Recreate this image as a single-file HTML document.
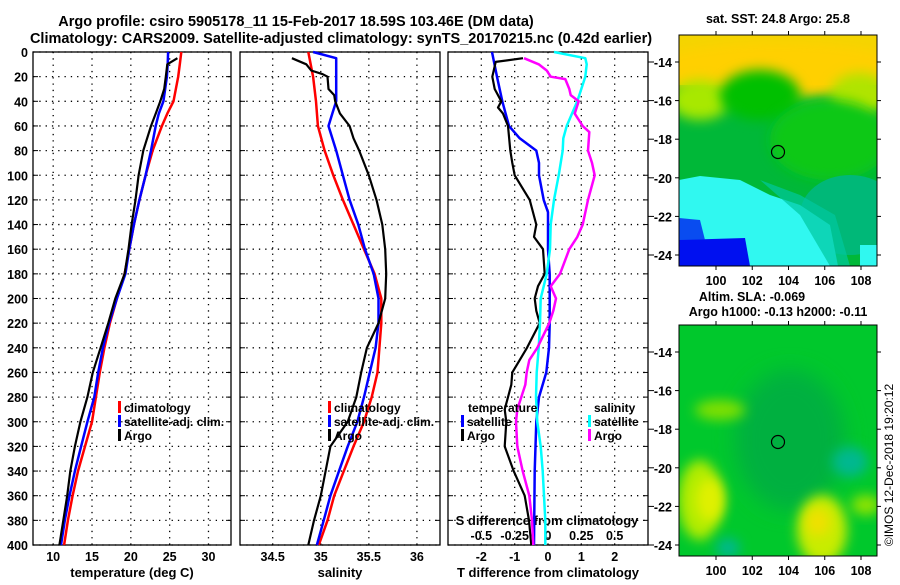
<!DOCTYPE html>
<html><head><meta charset="utf-8"><style>
body{margin:0;background:#fff;}
svg text{font-family:"Liberation Sans",sans-serif;font-weight:bold;fill:#000;}
</style></head><body>
<svg id="chart" width="900" height="580" viewBox="0 0 900 580" xmlns="http://www.w3.org/2000/svg">
<defs>
<filter id="blur6" x="-50%" y="-50%" width="200%" height="200%"><feGaussianBlur stdDeviation="6"/></filter>
<filter id="blur10" x="-50%" y="-50%" width="200%" height="200%"><feGaussianBlur stdDeviation="10"/></filter>
<clipPath id="clipTop"><rect x="679" y="35" width="198" height="231"/></clipPath>
<clipPath id="clipBot"><rect x="679" y="325" width="198" height="231"/></clipPath>
</defs>
<text x="296" y="26" font-size="14.5" text-anchor="middle">Argo profile: csiro 5905178_11 15-Feb-2017 18.59S 103.46E (DM data)</text>
<text x="341" y="43" font-size="14.5" text-anchor="middle">Climatology: CARS2009. Satellite-adjusted climatology: synTS_20170215.nc (0.42d earlier)</text>

<g clip-path="url(#clipTop)">
<rect x="679" y="35" width="198" height="231" fill="#00b838"/>
<rect x="679" y="35" width="198" height="50" fill="#f4d400"/>
<ellipse cx="778" cy="70" rx="130" ry="28" fill="#ffd000" filter="url(#blur6)"/>
<ellipse cx="700" cy="100" rx="30" ry="20" fill="#a8e800" filter="url(#blur6)"/>
<ellipse cx="860" cy="95" rx="30" ry="22" fill="#b0e400" filter="url(#blur6)"/>
<ellipse cx="760" cy="95" rx="40" ry="25" fill="#00c000" filter="url(#blur6)"/>
<ellipse cx="830" cy="140" rx="60" ry="40" fill="#10c818" filter="url(#blur6)"/>
<ellipse cx="850" cy="215" rx="50" ry="40" fill="#00b878"/>
<polygon points="679,180 700,176 740,180 770,195 800,205 830,225 838,266 679,266" fill="#30f8f0"/>
<polygon points="760,180 800,195 835,215 850,266 830,266 800,215" fill="#00c8a0" opacity="0.7"/>
<polygon points="679,240 745,238 750,266 679,266" fill="#0010f0"/>
<polygon points="679,218 700,220 705,240 679,240" fill="#0020f0" opacity="0.8"/>
<rect x="860" y="245" width="17" height="21" fill="#30f8f0"/>
</g>
<rect x="679" y="35" width="198" height="231" fill="none" stroke="#000" stroke-width="1"/>
<circle cx="778" cy="152" r="6.5" fill="none" stroke="#000" stroke-width="1.2"/>
<text x="778" y="23" font-size="12.5" text-anchor="middle">sat. SST: 24.8 Argo: 25.8</text>

<g clip-path="url(#clipBot)">
<rect x="679" y="325" width="198" height="231" fill="#00c040"/>
<rect x="679" y="325" width="198" height="231" fill="#00d018" opacity="0.5"/>
<ellipse cx="790" cy="440" rx="55" ry="70" fill="#00b040" filter="url(#blur10)"/>
<ellipse cx="700" cy="500" rx="22" ry="40" fill="#b0ec00" filter="url(#blur6)"/>
<ellipse cx="710" cy="500" rx="14" ry="22" fill="#e0f000" filter="url(#blur6)"/>
<ellipse cx="720" cy="410" rx="25" ry="10" fill="#80e000" filter="url(#blur6)"/>
<ellipse cx="822" cy="530" rx="25" ry="35" fill="#c8ec00" filter="url(#blur6)"/>
<ellipse cx="818" cy="522" rx="12" ry="14" fill="#f0e000" filter="url(#blur6)"/>
<ellipse cx="866" cy="505" rx="15" ry="10" fill="#90e400" filter="url(#blur6)"/>
<ellipse cx="850" cy="462" rx="18" ry="15" fill="#00b890" filter="url(#blur6)"/>
<ellipse cx="728" cy="548" rx="12" ry="10" fill="#00b890" filter="url(#blur6)"/>
</g>
<rect x="679" y="325" width="198" height="231" fill="none" stroke="#000" stroke-width="1"/>
<circle cx="778" cy="442" r="6.5" fill="#00b040" stroke="#000" stroke-width="1.2"/>
<text x="752" y="301" font-size="12.5" text-anchor="middle">Altim. SLA: -0.069</text>
<text x="778" y="316" font-size="12.5" text-anchor="middle">Argo h1000: -0.13 h2000: -0.11</text>
<text transform="translate(893,465) rotate(-90)" font-size="12" text-anchor="middle" style="font-weight:normal">©IMOS 12-Dec-2018 19:20:12</text>
<g id="layer"></g>
</svg>
<script>
// ---- data ----
var depthTicks = [0,20,40,60,80,100,120,140,160,180,200,220,240,260,280,300,320,340,360,380,400];
var tempTicks = [10,15,20,25,30];
var salTicks = [34.5,35,35.5,36];
var salTickLabels = ['34.5','35','35.5','36'];
var tdiffTicks = [-2,-1,0,1,2];
var sdiffTicks = [-0.5,-0.25,0,0.25,0.5];
var sdiffTickLabels = ['-0.5','-0.25','0','0.25','0.5'];
var latTicks = [-14,-16,-18,-20,-22,-24];
var lonTicks = [100,102,104,106,108];

var climTDepth = [0,10,20,40,50,60,80,100,120,140,160,180,200,220,240,260,280,300,320,340,360,380,400];
var climT = [26.5,26.3,26.1,25.5,24.7,24.0,22.8,21.9,21.1,20.4,19.8,19.2,18.2,17.3,16.6,16.0,15.5,15.0,14.1,13.2,12.5,11.9,11.4];
var satT = [24.8,24.75,24.65,24.2,23.6,23.2,22.6,21.9,21.1,20.4,19.8,19.3,18.2,17.2,16.4,15.8,15.3,14.4,13.6,12.8,12.1,11.5,11.0];
var argoTDepth = [5,8,10,20,30,40,50,60,80,100,120,140,160,180,200,220,240,260,280,300,320,340,360,380,400];
var argoT = [26.0,25.2,24.7,24.5,24.3,23.8,23.2,22.6,21.6,21.0,20.6,20.1,19.7,19.2,18.0,17.1,16.1,15.1,14.4,13.5,12.8,12.2,11.8,11.3,10.8];

var climSDepth = [0,20,40,60,80,100,120,140,160,180,200,220,240,260,280,300,320,340,360,380,400];
var climS = [34.87,34.92,34.95,34.97,35.04,35.13,35.23,35.34,35.45,35.56,35.63,35.63,35.61,35.59,35.53,35.45,35.34,35.24,35.14,35.07,34.98];
var satSDepth = [0,5,20,40,50,60,80,100,120,140,160,180,200,220,240,260,280,300,320,340,360,380,400];
var satS = [34.92,35.16,35.16,35.16,35.12,35.08,35.16,35.23,35.3,35.39,35.46,35.55,35.6,35.6,35.57,35.51,35.45,35.38,35.28,35.19,35.1,35.03,34.96];
var argoSDepth = [5,10,15,18,20,30,35,40,50,60,70,80,100,120,140,160,180,200,220,240,260,280,300,320,340,360,380,400];
var argoS = [34.7,34.85,34.9,35.02,35.07,35.08,35.14,35.15,35.2,35.3,35.34,35.4,35.5,35.58,35.64,35.67,35.68,35.67,35.6,35.48,35.42,35.37,35.28,35.1,35.05,35.0,34.93,34.87];

var dTsatDepth = [0,20,40,60,70,80,90,100,120,130,140,160,180,200,220,240,260,280,300,340,400];
var dTsat = [-1.68,-1.53,-1.37,-1.17,-0.85,-0.35,-0.27,-0.27,-0.13,0,0,0,0.05,0.05,0.05,0.03,-0.05,-0.27,-0.35,-0.4,-0.42];
var dTargoDepth = [5,8,20,30,40,45,50,60,80,90,100,120,140,150,160,180,190,200,210,220,240,250,260,270,280,290,300,320,340,360,380,400];
var dTargo = [-0.75,-1.57,-1.67,-1.6,-1.4,-1.5,-1.35,-1.2,-1.13,-1.07,-1.0,-0.55,-0.35,-0.42,-0.15,-0.1,-0.3,-0.4,-0.35,-0.25,-0.63,-0.85,-1.07,-1.1,-1.2,-1.3,-1.25,-1.3,-1.03,-0.7,-0.57,-0.5];
var dSsatDepth = [0,5,10,20,40,60,70,80,100,120,140,160,180,200,220,240,260,280,300,320,340,360,380,400];
var dSsat = [0.045,0.28,0.29,0.28,0.22,0.14,0.115,0.11,0.08,0.045,0.02,0.015,-0.01,-0.055,-0.06,-0.07,-0.085,-0.09,-0.08,-0.055,-0.04,-0.03,-0.02,-0.02];
var dSargoDepth = [5,10,15,20,22,30,35,40,50,60,65,80,90,100,120,140,150,160,180,190,200,210,220,240,250,260,270,280,290,300,320,340,360,380,400];
var dSargo = [-0.18,-0.07,-0.01,0.02,0.13,0.16,0.17,0.23,0.2,0.26,0.31,0.3,0.33,0.35,0.3,0.26,0.22,0.16,0.09,0.02,0.06,0.04,0.01,-0.08,-0.14,-0.16,-0.17,-0.2,-0.23,-0.24,-0.23,-0.19,-0.14,-0.12,-0.11];

// ---- drawing ----
var NS = 'http://www.w3.org/2000/svg';
var layer = document.getElementById('layer');
function mk(tag, attrs, parent){
  var e = document.createElementNS(NS, tag);
  for (var k in attrs) e.setAttribute(k, attrs[k]);
  (parent || layer).appendChild(e);
  return e;
}
var Y0 = 52, Y1 = 545;
function yD(d){ return Y0 + (Y1 - Y0) * d / 400; }
function scale(a, b, x0, x1){ return function(v){ return x0 + (v - a) / (b - a) * (x1 - x0); }; }

var panels = [
  {name:'temperature', x0:33, x1:231, sx:scale(7.4,32.9,33,231), ticks:tempTicks, labels:tempTicks.map(String), title:'temperature (deg C)'},
  {name:'salinity', x0:240, x1:440, sx:scale(34.16,36.24,240,440), ticks:salTicks, labels:salTickLabels, title:'salinity'},
  {name:'difference', x0:448, x1:648, sx:scale(-3,3,448,648), ticks:tdiffTicks, labels:tdiffTicks.map(String), title:'T difference from climatology'}
];
var sxS = scale(-0.75,0.75,448,648);

panels.forEach(function(p, pi){
  var g = mk('g', {});
  
  
  depthTicks.forEach(function(d){
    var l = mk('line', {x1:p.x0, x2:p.x1, y1:yD(d), y2:yD(d), stroke:'#000', 'stroke-width':1.3, 'stroke-dasharray':'1.3,5'}, g);
    
    
    mk('line', {x1:p.x0, x2:p.x0+5, y1:yD(d), y2:yD(d), stroke:'#000'}, g);
    mk('line', {x1:p.x1, x2:p.x1-5, y1:yD(d), y2:yD(d), stroke:'#000'}, g);
  });
  p.ticks.forEach(function(t, i){
    var x = p.sx(t);
    var l = mk('line', {x1:x, x2:x, y1:Y0, y2:Y1, stroke:'#000', 'stroke-width':1.3, 'stroke-dasharray':'1.3,5'}, g);
    
    
    var tl = mk('text', {x:x, y:561, 'font-size':12.5, 'text-anchor':'middle'}, g);
    tl.textContent = p.labels[i];
    
    
  });
  var fr = mk('rect', {x:p.x0, y:Y0, width:p.x1-p.x0, height:Y1-Y0, fill:'none', stroke:'#000', 'stroke-width':1.3}, g);
  
  
  var at = mk('text', {x:(p.x0+p.x1)/2, y:577, 'font-size':13, 'text-anchor':'middle'}, g);
  at.textContent = p.title;
  
  
});
depthTicks.forEach(function(d){
  var t = mk('text', {x:28, y:yD(d)+5, 'font-size':12.5, 'text-anchor':'end'});
  t.textContent = String(d);
  
  
});
sdiffTicks.forEach(function(s, i){
  var t = mk('text', {x:sxS(s), y:540, 'font-size':12.5, 'text-anchor':'middle'});
  t.textContent = sdiffTickLabels[i];
  
  
});
var st = mk('text', {x:547, y:525, 'font-size':13, 'text-anchor':'middle'});
st.textContent = 'S difference from climatology';



function series(name, xs, ds, sx, color, w){
  var pts = xs.map(function(v, i){ return sx(v).toFixed(1) + ',' + yD(ds[i]).toFixed(1); }).join(' ');
  var pl = mk('polyline', {points:pts, fill:'none', stroke:color, 'stroke-width':w, 'stroke-linejoin':'round'});
  
  
}
var p1 = panels[0].sx, p2 = panels[1].sx, p3 = panels[2].sx;
series('temp-climatology-line', climT, climTDepth, p1, '#ff0000', 2.5);
series('temp-satellite-line', satT, climTDepth, p1, '#0000ff', 2.5);
series('temp-argo-line', argoT, argoTDepth, p1, '#000', 2.2);
series('sal-climatology-line', climS, climSDepth, p2, '#ff0000', 2.5);
series('sal-satellite-line', satS, satSDepth, p2, '#0000ff', 2.5);
series('sal-argo-line', argoS, argoSDepth, p2, '#000', 2.2);
series('tdiff-satellite-line', dTsat, dTsatDepth, p3, '#0000ff', 2.5);
series('tdiff-argo-line', dTargo, dTargoDepth, p3, '#000', 2.2);
series('sdiff-satellite-line', dSsat, dSsatDepth, sxS, '#00ffff', 2.5);
series('sdiff-argo-line', dSargo, dSargoDepth, sxS, '#ff00ff', 2.5);

function legend(x, y, color, label, name){
  var g = mk('g', {});
  
  
  mk('rect', {x:x, y:y-11, width:3, height:12, fill:color}, g);
  var t = mk('text', {x:x+6, y:y, 'font-size':12}, g);
  t.textContent = label;
}
legend(118, 412, '#ff0000', 'climatology', 'legend-entry-climatology');
legend(118, 426, '#0000ff', 'satellite-adj. clim.', 'legend-entry-satellite');
legend(118, 440, '#000', 'Argo', 'legend-entry-argo');
legend(328, 412, '#ff0000', 'climatology', 'legend-entry-climatology');
legend(328, 426, '#0000ff', 'satellite-adj. clim.', 'legend-entry-satellite');
legend(328, 440, '#000', 'Argo', 'legend-entry-argo');
var lt = mk('text', {x:468, y:412, 'font-size':12}); lt.textContent = 'temperature';


legend(461, 426, '#0000ff', 'satellite', 'legend-entry-t-satellite');
legend(461, 440, '#000', 'Argo', 'legend-entry-t-argo');
var ls = mk('text', {x:594, y:412, 'font-size':12}); ls.textContent = 'salinity';


legend(588, 426, '#00ffff', 'satellite', 'legend-entry-s-satellite');
legend(588, 440, '#ff00ff', 'Argo', 'legend-entry-s-argo');

var lonX = scale(100,108,716,861);
function latY(top){ return scale(-14,-24,top+27,top+220); }
[35, 325].forEach(function(top, mi){
  var ly = latY(top);
  latTicks.forEach(function(l){
    var t = mk('text', {x:672, y:ly(l)+5, 'font-size':12.5, 'text-anchor':'end'});
    t.textContent = String(l);
    
    
    mk('line', {x1:679, x2:675, y1:ly(l), y2:ly(l), stroke:'#000'});
    mk('line', {x1:877, x2:881, y1:ly(l), y2:ly(l), stroke:'#000'});
    mk('line', {x1:648, x2:654, y1:ly(l), y2:ly(l), stroke:'#000'});
  });
  lonTicks.forEach(function(l){
    var t = mk('text', {x:lonX(l), y:top+250, 'font-size':12.5, 'text-anchor':'middle'});
    t.textContent = String(l);
    
    
    mk('line', {x1:lonX(l), x2:lonX(l), y1:top, y2:top-4, stroke:'#000'});
    mk('line', {x1:lonX(l), x2:lonX(l), y1:top+231, y2:top+235, stroke:'#000'});
  });
});
</script>
</body></html>
